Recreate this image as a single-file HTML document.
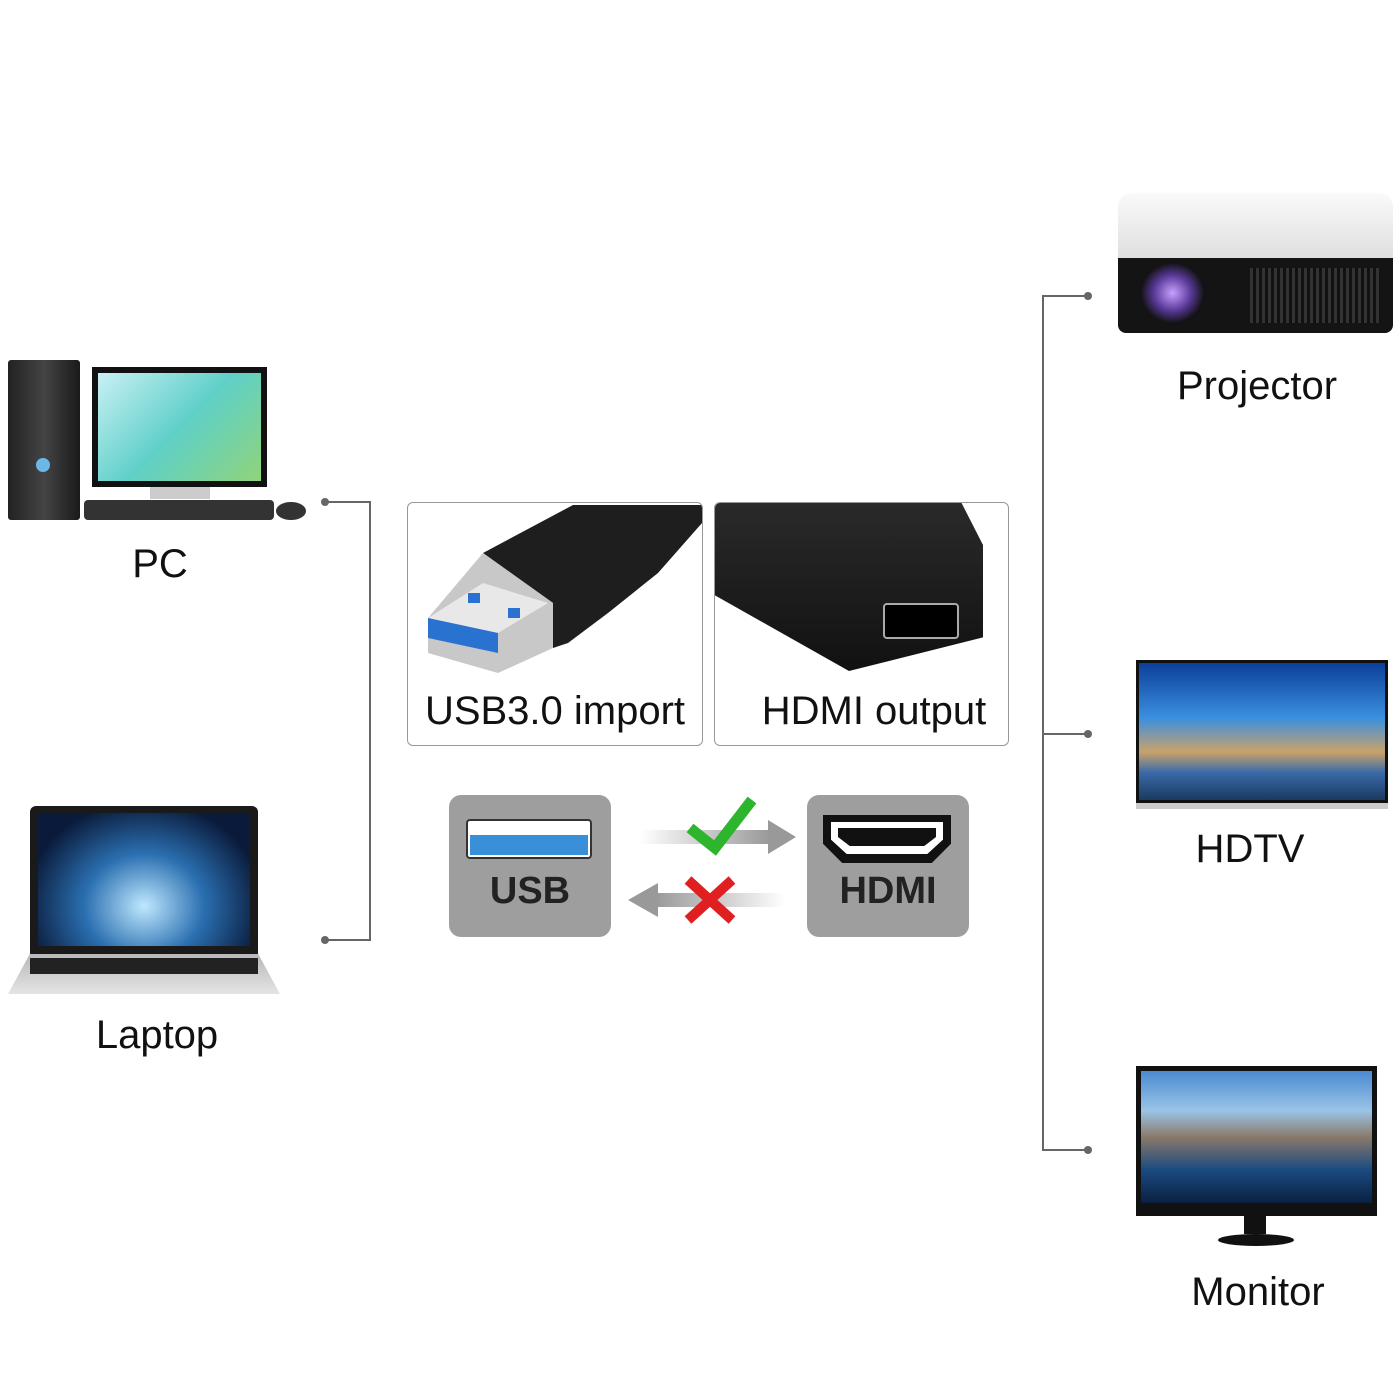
<!DOCTYPE html>
<html><head><meta charset="utf-8"><style>
body{margin:0;background:#fff;}
.c{position:relative;width:1400px;height:1400px;overflow:hidden;font-family:"Liberation Sans","DejaVu Sans",sans-serif;}
.a{position:absolute;}
.lbl{position:absolute;font-size:40px;color:#111;transform:translateX(-50%);white-space:nowrap;}
.ln{position:absolute;background:#666;}
.dot{position:absolute;width:8px;height:8px;border-radius:50%;background:#666;}
.box{position:absolute;border:1.5px solid #999;border-radius:6px;background:#fff;overflow:hidden;}
.tile{position:absolute;background:#9e9e9e;border-radius:12px;}
</style></head><body><div class="c">

<!-- PC -->
<div class="a" style="left:8px;top:360px;width:72px;height:160px;background:linear-gradient(90deg,#222,#444,#1a1a1a);border-radius:3px;"></div>
<div class="a" style="left:36px;top:458px;width:14px;height:14px;border-radius:50%;background:#6bb8e8;"></div>
<div class="a" style="left:92px;top:367px;width:175px;height:120px;background:#111;"></div>
<div class="a" style="left:98px;top:373px;width:163px;height:108px;background:linear-gradient(135deg,#c9f0f5,#5fd0c8 50%,#8fd47a);"></div>
<div class="a" style="left:150px;top:487px;width:60px;height:12px;background:#ccc;"></div>
<div class="a" style="left:84px;top:500px;width:190px;height:20px;background:#333;border-radius:4px;"></div>
<div class="a" style="left:276px;top:502px;width:30px;height:18px;background:#333;border-radius:50%;"></div>
<div class="lbl" style="left:160px;top:542px;">PC</div>

<!-- Laptop -->
<div class="a" style="left:30px;top:806px;width:228px;height:148px;background:#1a1a1a;border-radius:6px 6px 0 0;"></div>
<div class="a" style="left:38px;top:813px;width:212px;height:133px;background:radial-gradient(ellipse at 50% 70%,#bfe8ff,#2a6fb0 40%,#0a1a3a 80%);"></div>
<div class="a" style="left:8px;top:954px;width:272px;height:40px;background:linear-gradient(#b8b8b8,#e4e4e4);clip-path:polygon(8% 0,92% 0,100% 100%,0 100%);"></div>
<div class="a" style="left:30px;top:958px;width:228px;height:16px;background:#222;"></div>
<div class="lbl" style="left:157px;top:1013px;">Laptop</div>

<!-- left bracket -->
<div class="ln" style="left:325px;top:501px;width:46px;height:2px;"></div>
<div class="ln" style="left:369px;top:501px;width:2px;height:440px;"></div>
<div class="ln" style="left:325px;top:939px;width:46px;height:2px;"></div>
<div class="dot" style="left:321px;top:498px;"></div>
<div class="dot" style="left:321px;top:936px;"></div>

<!-- right bracket -->
<div class="ln" style="left:1042px;top:295px;width:2px;height:856px;"></div>
<div class="ln" style="left:1042px;top:295px;width:46px;height:2px;"></div>
<div class="ln" style="left:1042px;top:733px;width:46px;height:2px;"></div>
<div class="ln" style="left:1042px;top:1149px;width:46px;height:2px;"></div>
<div class="dot" style="left:1084px;top:292px;"></div>
<div class="dot" style="left:1084px;top:730px;"></div>
<div class="dot" style="left:1084px;top:1146px;"></div>

<!-- Projector -->
<div class="a" style="left:1118px;top:193px;width:275px;height:70px;background:linear-gradient(#fafafa,#ddd);border-radius:14px 14px 0 0;"></div>
<div class="a" style="left:1118px;top:258px;width:275px;height:75px;background:#141414;border-radius:0 0 8px 8px;"></div>
<div class="a" style="left:1140px;top:262px;width:65px;height:62px;border-radius:50%;background:radial-gradient(#c9a0ff,#5a3a9a 40%,#111 70%);"></div>
<div class="a" style="left:1250px;top:268px;width:130px;height:55px;background:repeating-linear-gradient(90deg,#333 0 3px,#111 3px 6px);"></div>
<div class="lbl" style="left:1257px;top:364px;">Projector</div>

<!-- HDTV -->
<div class="a" style="left:1136px;top:660px;width:252px;height:143px;background:#111;"></div>
<div class="a" style="left:1139px;top:663px;width:246px;height:137px;background:linear-gradient(#0b3f9a,#3a8fe0 40%,#c9a26a 65%,#3a6aa8 80%,#1a3a60);"></div>
<div class="a" style="left:1136px;top:803px;width:252px;height:6px;background:#ccc;"></div>
<div class="lbl" style="left:1250px;top:827px;">HDTV</div>

<!-- Monitor -->
<div class="a" style="left:1136px;top:1066px;width:241px;height:150px;background:#111;"></div>
<div class="a" style="left:1141px;top:1071px;width:231px;height:132px;background:linear-gradient(#4a8ad0,#9ac4e8 30%,#8a7a6a 50%,#1a4a80 75%,#0a2040);"></div>
<div class="a" style="left:1244px;top:1216px;width:22px;height:18px;background:#111;"></div>
<div class="a" style="left:1218px;top:1234px;width:76px;height:12px;background:#111;border-radius:50%;"></div>
<div class="lbl" style="left:1258px;top:1270px;">Monitor</div>

<!-- product boxes -->
<div class="box" style="left:407px;top:502px;width:294px;height:242px;">
  <svg class="a" style="left:0;top:0" width="294" height="242">
    <polygon points="75,50 165,2 294,2 294,20 250,70 200,110 160,140 145,145 145,100" fill="#1e1e1e"/>
    <polygon points="20,115 75,50 145,100 145,145 90,170 20,150" fill="#c8c8c8"/>
    <polygon points="20,115 75,80 140,100 90,130" fill="#e8e8e8"/>
    <polygon points="20,115 90,130 90,150 20,135" fill="#2a72d0"/>
    <rect x="60" y="90" width="12" height="10" fill="#2a72d0"/>
    <rect x="100" y="105" width="12" height="10" fill="#2a72d0"/>
  </svg>
  <div class="a" style="left:0;top:186px;width:294px;text-align:center;font-size:40px;color:#111;">USB3.0 import</div>
</div>
<div class="box" style="left:714px;top:502px;width:293px;height:242px;">
  <div class="a" style="left:0;top:0;width:268px;height:168px;background:linear-gradient(#2a2a2a,#111);clip-path:polygon(0 0,92% 0,100% 25%,100% 80%,50% 100%,0 55%);"></div>
  <div class="a" style="left:168px;top:100px;width:72px;height:32px;background:#000;border:2px solid #aaa;border-radius:4px;"></div>
  <div class="a" style="left:0;top:186px;width:318px;text-align:center;font-size:40px;color:#111;">HDMI output</div>
</div>

<!-- tiles -->
<div class="tile" style="left:449px;top:795px;width:162px;height:142px;"></div>
<div class="a" style="left:466px;top:819px;width:126px;height:40px;background:#fff;border-radius:4px;border:2px solid #333;box-sizing:border-box;"></div>
<div class="a" style="left:470px;top:835px;width:118px;height:20px;background:#3a90d8;"></div>
<div class="a" style="left:449px;top:870px;width:162px;text-align:center;font-size:38px;font-weight:bold;color:#222;">USB</div>

<div class="tile" style="left:807px;top:795px;width:162px;height:142px;"></div>
<div class="a" style="left:823px;top:815px;width:128px;height:48px;background:#111;clip-path:polygon(0 0,100% 0,100% 60%,85% 100%,15% 100%,0 60%);"></div>
<div class="a" style="left:831px;top:822px;width:112px;height:32px;background:#fff;clip-path:polygon(0 0,100% 0,100% 55%,86% 100%,14% 100%,0 55%);"></div>
<div class="a" style="left:838px;top:828px;width:98px;height:18px;background:#111;clip-path:polygon(0 0,100% 0,100% 50%,88% 100%,12% 100%,0 50%);"></div>
<div class="a" style="left:807px;top:870px;width:162px;text-align:center;font-size:38px;font-weight:bold;color:#222;">HDMI</div>

<!-- arrows -->
<svg class="a" style="left:620px;top:790px;" width="190" height="150">
  <defs><linearGradient id="g1" x1="0" x2="1"><stop offset="0" stop-color="#fff"/><stop offset="1" stop-color="#999"/></linearGradient>
  <linearGradient id="g2" x1="1" x2="0"><stop offset="0" stop-color="#fff"/><stop offset="1" stop-color="#999"/></linearGradient></defs>
  <rect x="20" y="40" width="130" height="14" fill="url(#g1)"/>
  <polygon points="148,30 176,47 148,64" fill="#999"/>
  <rect x="35" y="103" width="130" height="14" fill="url(#g2)"/>
  <polygon points="38,93 8,110 38,127" fill="#999"/>
  <path d="M70 38 L95 58 L132 10" stroke="#2db52d" stroke-width="11" fill="none"/>
  <path d="M68 90 L112 130 M112 90 L68 130" stroke="#e02020" stroke-width="10"/>
</svg>

</div></body></html>
